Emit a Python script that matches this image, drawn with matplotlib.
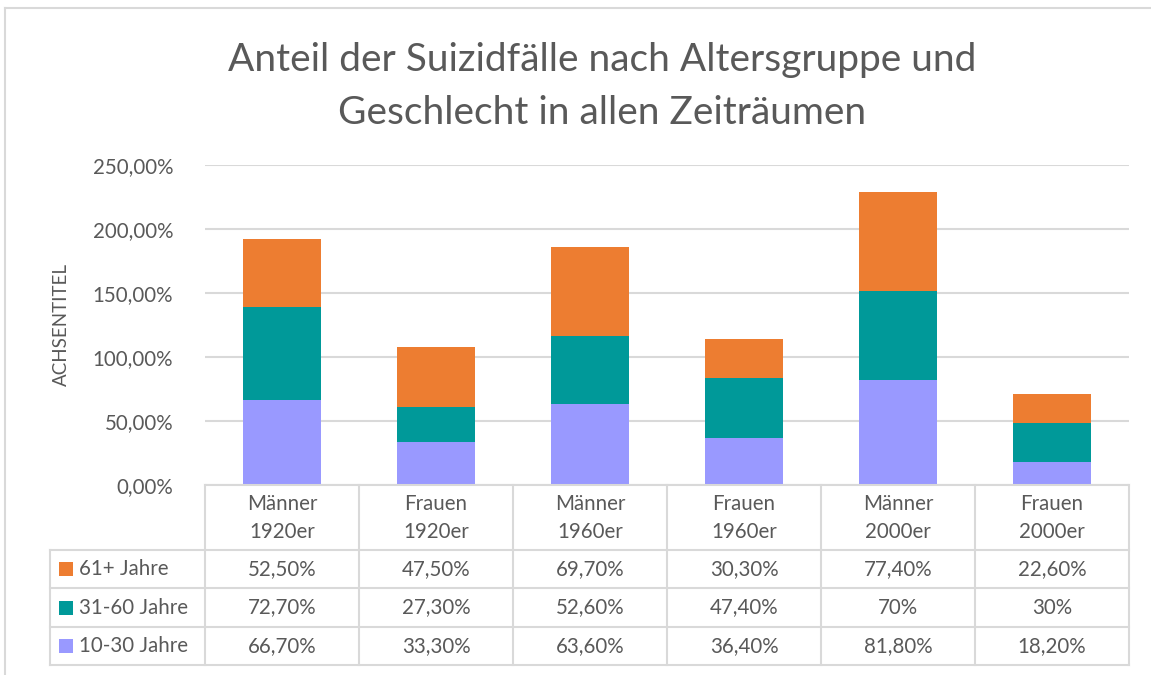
import numpy as np
import matplotlib.pyplot as plt
from matplotlib.transforms import blended_transform_factory
from matplotlib.lines import Line2D
from matplotlib.patches import Rectangle

groups = ["Männer\n1920er", "Frauen\n1920er", "Männer\n1960er",
          "Frauen\n1960er", "Männer\n2000er", "Frauen\n2000er"]
series = ["61+ Jahre", "31-60 Jahre", "10-30 Jahre"]
alt_61 = [52.5, 47.5, 69.7, 30.3, 77.4, 22.6]
alt_31 = [72.7, 27.3, 52.6, 47.4, 70.0, 30.0]
alt_10 = [66.7, 33.3, 63.6, 36.4, 81.8, 18.2]
labels_61 = ["52,50%", "47,50%", "69,70%", "30,30%", "77,40%", "22,60%"]
labels_31 = ["72,70%", "27,30%", "52,60%", "47,40%", "70%", "30%"]
labels_10 = ["66,70%", "33,30%", "63,60%", "36,40%", "81,80%", "18,20%"]
yticks = [0, 50, 100, 150, 200, 250]

c_orange = "#ED7D31"
c_teal = "#009999"
c_lav = "#9999FF"
txt = "#595959"
grid = "#D9D9D9"

plt.rcParams['font.family'] = ['Lato', 'DejaVu Sans']
fs = 14.8

W, H = 1151, 675
fig = plt.figure(figsize=(W / 100, H / 100), dpi=100)

def fx(x):
    return x / W

def fy(y):
    return 1 - y / H

# outer frame of the chart (left and top edges visible)
fig.add_artist(Line2D([fx(5), fx(5)], [fy(8), 0], transform=fig.transFigure, color=grid, lw=1.5))
fig.add_artist(Line2D([fx(5), 1], [fy(8), fy(8)], transform=fig.transFigure, color=grid, lw=1.5))

ax = fig.add_axes([fx(205), fy(485), fx(1129) - fx(205), fy(165) - fy(485)])

x = np.arange(len(groups))
a10 = np.array(alt_10)
a31 = np.array(alt_31)
a61 = np.array(alt_61)
w = 0.51
ax.bar(x, a10, w, color=c_lav, zorder=2)
ax.bar(x, a31, w, bottom=a10, color=c_teal, zorder=2)
ax.bar(x, a61, w, bottom=a10 + a31, color=c_orange, zorder=2)

ax.set_xlim(-0.5, len(groups) - 0.5)
ax.set_ylim(0, 250)
ax.set_yticks(yticks)
ax.set_yticklabels(["%d,00%%" % v for v in yticks], fontsize=fs, color=txt)
ax.yaxis.grid(True, color=grid, lw=1.5, zorder=0)
ax.tick_params(axis='y', length=0, pad=23)
ax.set_xticks([])
for s in ax.spines.values():
    s.set_visible(False)

ax.set_ylabel("ACHSENTITEL", fontsize=13.5, color=txt, labelpad=16)

fig.text(fx(602), fy(60), "Anteil der Suizidfälle nach Altersgruppe und", ha='center', va='center',
         fontsize=28, color=txt, fontweight='normal')
fig.text(fx(602), fy(113), "Geschlecht in allen Zeiträumen", ha='center', va='center',
         fontsize=28, color=txt, fontweight='normal')

# data table below the axis
bt = blended_transform_factory(ax.transData, fig.transFigure)
row_y = [485, 550, 588, 627, 665]
tbl_kw = dict(color=grid, lw=1.5, clip_on=False)
for i in range(len(groups) + 1):
    xi = i - 0.5
    ax.plot([xi, xi], [fy(row_y[0]), fy(row_y[-1])], transform=bt, **tbl_kw)
ax.plot([-0.5, len(groups) - 0.5], [fy(485), fy(485)], transform=bt, **tbl_kw)
for yy in row_y[1:]:
    fig.add_artist(Line2D([fx(50), fx(1129)], [fy(yy), fy(yy)],
                          transform=fig.transFigure, color=grid, lw=1.5))
fig.add_artist(Line2D([fx(50), fx(50)], [fy(550), fy(665)], transform=fig.transFigure, color=grid, lw=1.5))

for i, g in enumerate(groups):
    ax.text(i, fy(518), g, transform=bt, ha='center', va='center', fontsize=fs,
            color=txt, linespacing=1.55, clip_on=False)

rows = [(series[0], c_orange, labels_61), (series[1], c_teal, labels_31), (series[2], c_lav, labels_10)]
for r, (name, col, labs) in enumerate(rows):
    yc = (row_y[r + 1] + row_y[r + 2]) / 2
    fig.add_artist(Rectangle((fx(59), fy(yc + 7)), fx(14), 14 / H, transform=fig.transFigure,
                             color=col, lw=0))
    fig.text(fx(79), fy(yc), name, ha='left', va='center', fontsize=fs, color=txt)
    for i, lab in enumerate(labs):
        ax.text(i, fy(yc), lab, transform=bt, ha='center', va='center', fontsize=fs,
                color=txt, clip_on=False)

fig.savefig("out.png", dpi=100)
